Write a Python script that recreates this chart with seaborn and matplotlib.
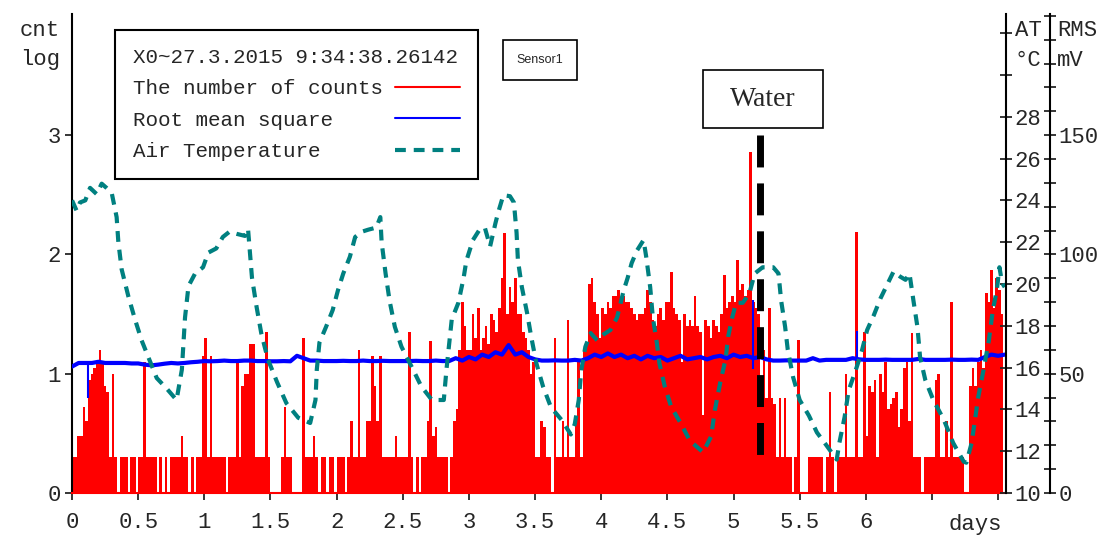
import numpy as np
import matplotlib
matplotlib.use("Agg")
import matplotlib.pyplot as plt
from matplotlib.lines import Line2D
from matplotlib.patches import Rectangle
import seaborn as sns

# --------------------------------------------------
# data
# --------------------------------------------------
# log10 of the number of counts, one value per 0.02 day bin (0 .. 7.04 days)
cnt_step = 0.02
cnt_log = [
    0.3, 0.3, 0.48, 0.48, 0.72,   0.6, 0.95, 1.0, 1.05, 1.1,
    1.2, 1.1, 0.9, 0.85, 0.3,     1.0, 0.3, 0, 0.3, 0.3,
    0.3, 0, 0.3, 0.3, 0,          0.3, 0.3, 1.1, 0.3, 0.3,
    0.3, 0.3, 0, 0.3, 0,          0.3, 0, 0.3, 0.3, 0.3,
    0.3, 0.48, 0.3, 0.3, 0,       0.3, 0, 0.3, 0.3, 1.15,
    1.3, 0.3, 1.15, 0.3, 0.3,     0.3, 0.3, 0.3, 0, 0.3,
    0.3, 0.3, 1.1, 0.3, 0.9,      1.0, 1.0, 1.25, 1.25, 0.3,
    0.3, 0.3, 0.3, 1.35, 0.3,     0, 0, 0, 0, 0.3,
    0.72, 0.3, 0.3, 0, 0,         0, 0, 1.3, 0.3, 0.3,
    0.3, 0.48, 0.3, 0, 0.3,       0.3, 0, 0.3, 0.3, 0,
    0.3, 0.3, 0.3, 0, 0.3,        0.6, 0.3, 0.3, 1.2, 0.3,
    0.3, 0.6, 0.6, 1.15, 0.9,     0.6, 1.15, 0.3, 0.3, 0.3,
    0.3, 0.3, 0.48, 0.3, 0.3,     0.3, 0.3, 1.35, 0.3, 0,
    0.3, 0, 0.3, 0.3, 0.6,        1.27, 0.48, 0.55, 0.3, 0.3,
    0.3, 0.3, 0, 0.3, 0.6,        0.7, 1.2, 1.6, 1.4, 1.2,
    1.2, 1.5, 1.3, 1.55, 1.2,     1.3, 1.4, 1.25, 1.5, 1.45,
    1.35, 1.55, 1.8, 2.18, 1.5,   1.73, 1.6, 1.8, 1.5, 1.5,
    1.35, 1.3, 1.2, 1.0, 1.1,     0.3, 0.3, 0.6, 0.55, 0.3,
    0.3, 0, 1.3, 0.3, 0.3,        0.6, 0.3, 1.45, 0.3, 0.3,
    0.6, 1.1, 0.3, 1.2, 1.25,     1.75, 1.8, 1.6, 1.5, 1.3,
    1.55, 1.5, 1.6, 1.55, 1.65,   1.65, 1.7, 1.6, 1.65, 1.6,
    1.6, 1.55, 1.5, 1.45, 1.5,    1.5, 1.55, 1.7, 1.6, 1.45,
    1.4, 1.5, 1.55, 1.45, 1.6,    1.6, 1.85, 1.55, 1.5, 1.45,
    1.1, 1.5, 1.4, 1.45, 1.4,     1.65, 1.4, 1.35, 0.65, 1.45,
    1.4, 1.3, 1.45, 1.4, 1.35,    1.5, 1.83, 1.55, 1.6, 1.65,
    1.6, 1.95, 1.7, 1.75, 1.65,   1.7, 2.86, 1.6, 1.55, 1.5,
    0.8, 1.2, 0.8, 1.55, 0.8,     0.75, 0.3, 0.8, 0.3, 0.8,
    0.3, 0.3, 0, 0.3, 1.28,       0, 0, 0, 0.3, 0.3,
    0.3, 0.3, 0.3, 0.3, 0,        0.3, 0.85, 0.3, 0, 0.3,
    0.3, 0.3, 1.0, 0.3, 0.3,      0.3, 2.19, 0.3, 0.3, 1.35,
    0.48, 0.9, 0.85, 0.95, 0.3,   1.0, 0.85, 1.1, 0.7, 0.75,
    0.8, 0.85, 0.55, 0.7, 1.05,   1.1, 0.6, 1.34, 0.3, 0.3,
    0.3, 0, 0.3, 0.3, 0.3,        0.3, 0.95, 1.0, 0.3, 0.3,
    0.6, 0.3, 1.6, 0.3, 0.3,      0.3, 0.3, 0, 0, 0.9,
    1.05, 0.9, 1.1, 1.2, 1.05,    1.68, 1.6, 1.87, 1.55, 1.8,
    1.7, 1.5,
]
cnt_days = np.arange(len(cnt_log)) * cnt_step + cnt_step / 2

# root mean square (mV), every 0.05 day
rms_step = 0.05
rms_mv = [
    53, 54.5, 54.5, 54.5, 55, 54.5, 54.5, 54.5, 54.5, 54.3,
    54.3, 53.8, 53.5, 53.8, 54.2, 54.5, 54.3, 54.5, 54.8, 55,
    55.3, 55.2, 55.3, 55.5, 55.3, 55.3, 55.5, 55.5, 55.3, 55.3,
    55.2, 55.2, 55.3, 55.2, 57.5, 56.5, 55.5, 55.5, 55.3, 55.3,
    55.3, 55.4, 55.3, 55.3, 55.5, 55.3, 55.3, 55.4, 55.3, 55.3,
    55.3, 55.3, 55.4, 55.3, 55.3, 55.5, 55.3, 55.3, 56.5, 55.5,
    57, 56, 58, 57, 59, 58, 62, 58, 59, 57,
    56, 55.5, 55.5, 55.6, 55.5, 55.5, 55.8, 55.5, 56.5, 58,
    57, 58.5, 57, 58, 56.5, 57.5, 56, 57.5, 56.5, 57,
    55.5, 56.5, 57.5, 56, 56.5, 57, 56, 57, 57.5, 56.5,
    58, 57, 57.5, 56.5, 57, 56, 55.5, 55.5, 55.6, 55.5,
    55.5, 55.5, 56.5, 55.5, 55.8, 55.8, 55.8, 55.8, 56.5, 56,
    55.8, 55.8, 55.8, 55.9, 55.8, 55.8, 55.8, 55.8, 56.2, 55.8,
    55.8, 55.8, 55.8, 55.9, 55.8, 55.8, 55.9, 55.8, 57, 58,
    57.5, 58,
]
rms_days = np.arange(len(rms_mv)) * rms_step
# short single spikes of the RMS trace
rms_spike_days = [0.12, 5.15, 5.93]
rms_spike_lo = [40, 52, 56]
rms_spike_hi = [54, 81, 68]

# air temperature (deg C)
at_days = [
    0.00, 0.035, 0.06, 0.10, 0.136, 0.186, 0.224, 0.26, 0.30, 0.337,
    0.35, 0.375, 0.426, 0.476, 0.526, 0.577, 0.64, 0.715, 0.79, 0.83,
    0.854, 0.88, 0.93, 0.99, 1.03, 1.09, 1.14, 1.19, 1.244, 1.307,
    1.33, 1.345, 1.36, 1.395, 1.43, 1.48, 1.55, 1.62, 1.71, 1.80,
    1.84, 1.85, 1.87, 1.92, 1.97, 2.01, 2.05, 2.10, 2.14, 2.19,
    2.24, 2.30, 2.33, 2.34, 2.37, 2.40, 2.44, 2.49, 2.57, 2.64,
    2.72, 2.81, 2.83, 2.87, 2.92, 2.96, 2.98, 3.03, 3.08, 3.12,
    3.16, 3.20, 3.22, 3.26, 3.31, 3.34, 3.36, 3.37, 3.40, 3.44,
    3.47, 3.51, 3.56, 3.62, 3.70, 3.77, 3.80, 3.83, 3.85, 3.88,
    3.92, 3.97, 4.02, 4.07, 4.12, 4.17, 4.20, 4.23, 4.27, 4.32,
    4.34, 4.37, 4.39, 4.42, 4.44, 4.48, 4.53, 4.60, 4.67, 4.77,
    4.83, 4.86, 4.90, 4.94, 4.96, 4.99, 5.02, 5.07, 5.12, 5.16,
    5.22, 5.30, 5.34, 5.36, 5.39, 5.41, 5.45, 5.50, 5.57, 5.63,
    5.70, 5.78, 5.80, 5.84, 5.87, 5.93, 5.97, 6.01, 6.06, 6.11,
    6.16, 6.21, 6.26, 6.30, 6.33, 6.36, 6.39, 6.41, 6.45, 6.51,
    6.59, 6.66, 6.74, 6.76, 6.80, 6.85, 6.89, 6.93, 6.96, 6.99,
    7.01, 7.03, 7.05,
]
at_temp = [
    24.0, 23.5, 23.9, 24.0, 24.6, 24.3, 24.8, 24.6, 24.35, 23.2,
    22.0, 20.7, 19.4, 18.3, 17.3, 16.5, 15.5, 15.0, 14.45, 15.9,
    18.4, 19.9, 20.5, 20.8, 21.5, 21.7, 22.25, 22.5, 22.4, 22.3,
    22.65, 21.5, 20.3, 18.9, 17.65, 16.4, 15.3, 14.3, 13.6, 13.35,
    14.45, 15.9, 17.2, 17.95, 18.75, 19.7, 20.5, 21.3, 22.25, 22.5,
    22.6, 22.7, 23.2, 22.0, 20.5, 19.2, 17.95, 17.0, 16.0, 15.1,
    14.45, 14.45, 15.9, 18.3, 19.1, 20.3, 21.1, 22.1, 22.6, 22.7,
    21.8, 22.9, 23.4, 24.25, 24.2, 23.9, 22.45, 21.15, 19.85, 18.6,
    17.5, 16.2, 15.1, 14.1, 13.5, 12.8, 13.3, 14.45, 15.9, 17.0,
    17.65, 17.3, 17.6, 17.8, 18.4, 19.7, 20.3, 21.0, 21.6, 22.1,
    21.3, 19.85, 18.4, 17.2, 16.2, 15.1, 14.1, 13.35, 12.5, 11.95,
    12.7, 14.0, 15.3, 16.4, 17.5, 18.4, 19.1, 19.1, 19.55, 20.5,
    20.8, 20.8, 20.5, 19.2, 17.95, 16.85, 15.55, 14.45, 13.7, 12.9,
    12.3, 11.6, 12.4, 13.65, 14.9, 16.0, 16.8, 17.8, 18.5, 19.3,
    19.95, 20.6, 20.35, 20.2, 20.5, 19.2, 17.95, 16.5, 15.4, 14.45,
    13.5, 12.4, 11.5, 11.45, 12.4, 14.6, 15.9, 17.3, 18.75, 19.7,
    20.8, 20.05, 19.85,
]

water_day = 5.2
x_ticks = np.arange(0, 7.01, 0.5)
x_tick_labels = ["0", "0.5", "1", "1.5", "2", "2.5", "3", "3.5",
                 "4", "4.5", "5", "5.5", "6", "", ""]

# --------------------------------------------------
# plot
# --------------------------------------------------
sns.set_style("white")
plt.rcParams["font.family"] = ["Liberation Mono", "DejaVu Sans Mono"]
mono = 16

RED, BLUE, TEAL = "#ff0000", "#0000ff", "#008080"
cnt_top = 4.015            # log units at the top of the frame
at_per_cnt = 5.708         # deg C per log unit
rms_per_cnt = 50           # mV per log unit

fig = plt.figure(figsize=(11, 5.36), dpi=100)
ax = fig.add_axes([0.0655, 0.0802, 0.8491, 0.8937])
ax_rms = ax.twinx()
ax_at = ax.twinx()

# counts
ax.bar(cnt_days, cnt_log, width=cnt_step, color=RED, linewidth=0)
ax.set_xlim(0, 7.06)
ax.set_ylim(0, cnt_top)
ax.set_yticks([0, 1, 2, 3])
ax.set_xticks(x_ticks)
ax.set_xticklabels(x_tick_labels)
ax.tick_params(axis="y", direction="out", length=5, width=1.3, pad=3,
               labelsize=mono, left=True)
ax.tick_params(axis="x", direction="out", length=5, width=1.3, pad=9,
               labelsize=mono, bottom=True)
for s in ["top", "right"]:
    ax.spines[s].set_visible(False)
ax.spines["left"].set_color("black")
ax.spines["left"].set_linewidth(1.5)
ax.spines["bottom"].set_color(RED)
ax.spines["bottom"].set_linewidth(1.5)

# RMS
sns.lineplot(x=rms_days, y=rms_mv, ax=ax_rms, color=BLUE, linewidth=3.0,
             errorbar=None, legend=False)
ax_rms.vlines(rms_spike_days, rms_spike_lo, rms_spike_hi, color=BLUE, lw=1.5)
ax_rms.set_ylim(0, cnt_top * rms_per_cnt)
ax_rms.set_yticks(np.arange(0, 201, 10))
ax_rms.set_yticklabels([str(v) if v in (0, 50, 100, 150) else ""
                        for v in range(0, 201, 10)])
ax_rms.spines["right"].set_position(("outward", 31.7))

# air temperature
sns.lineplot(x=at_days, y=at_temp, ax=ax_at, color=TEAL, linewidth=3.0,
             linestyle=(0, (2.6, 1.9)), errorbar=None, legend=False)
ax_at.set_ylim(10, 10 + cnt_top * at_per_cnt)
ax_at.set_yticks(np.arange(10, 33, 2))
ax_at.set_yticklabels([str(v) if v <= 28 else "" for v in range(10, 33, 2)])

for a in (ax_rms, ax_at):
    for s in ["top", "left", "bottom"]:
        a.spines[s].set_visible(False)
    a.spines["right"].set_color("black")
    a.spines["right"].set_linewidth(1.5)
    a.tick_params(axis="y", direction="inout", length=8, width=1.3, pad=2,
                  labelsize=mono, right=True)
    a.set_ylabel("")
    a.set_xlabel("")
ax.set_xlim(0, 7.06)

# water marker
ax_at.plot([water_day, water_day], [3.0, 0.32], transform=ax.transData,
           color="black", lw=5, dashes=(4.6, 2.3), zorder=10)

# legend (labels padded so the monospaced text stays left aligned)
handles = [Line2D([], [], color=RED, lw=1.5),
           Line2D([], [], color=BLUE, lw=1.5),
           Line2D([], [], color=TEAL, lw=3.0, linestyle=(0, (2.6, 1.9)))]
labels = ["The number of counts", "Root mean square", "Air Temperature"]
width = max(len(s) for s in labels)
labels = [s.ljust(width) for s in labels]
leg = ax_at.legend(handles, labels, title="X0~27.3.2015 9:34:38.26142",
                   loc="upper left", bbox_to_anchor=(0.046, 0.967),
                   borderaxespad=0, markerfirst=False, handlelength=3.1,
                   handletextpad=0.6, labelspacing=0.6, borderpad=0.85,
                   fancybox=False, framealpha=1, edgecolor="black",
                   alignment="left",
                   prop={"family": "Liberation Mono", "size": 15},
                   title_fontproperties={"family": "Liberation Mono", "size": 15})
leg.get_frame().set_linewidth(1.5)

# boxes and axis captions
fig.text(540 / 1100, 1 - 60 / 536, "Sensor1", family="Liberation Sans",
         size=9, ha="center", va="center",
         bbox=dict(boxstyle="square,pad=1.1", fc="white", ec="black", lw=1.2))
fig.patches.append(Rectangle((703 / 1100, 1 - 128 / 536), 120 / 1100, 58 / 536,
                             transform=fig.transFigure, fc="white", ec="black",
                             lw=1.2))
fig.text(763 / 1100, 1 - 99 / 536, "Water", family="Liberation Serif",
         size=20, ha="center", va="center")

cap = dict(size=mono, va="center")
fig.text(40 / 1100, 1 - 30 / 536, "cnt", ha="center", **cap)
fig.text(40 / 1100, 1 - 60 / 536, "log", ha="center", **cap)
fig.text(1028 / 1100, 1 - 30 / 536, "AT", ha="center", **cap)
fig.text(1028 / 1100, 1 - 60 / 536, "°C", ha="center", **cap)
fig.text(1057 / 1100, 1 - 30 / 536, "RMS", ha="left", **cap)
fig.text(1057 / 1100, 1 - 60 / 536, "mV", ha="left", **cap)
ax.text(6.83, -0.26, "days", ha="center", va="center", size=mono)

fig.savefig("out.png", dpi=100)
